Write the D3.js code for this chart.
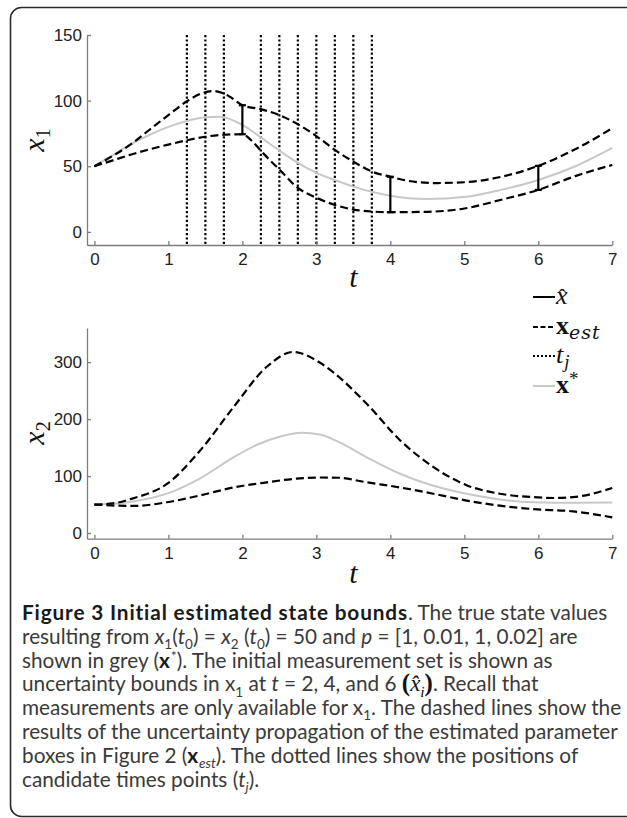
<!DOCTYPE html>
<html>
<head>
<meta charset="utf-8">
<script src="https://cdn.jsdelivr.net/npm/d3@7"></script>
<style>
body{margin:0;background:#fff;}
.axis .domain,.axis line{stroke:#7d7d7d;stroke-width:1.3;}
.axis text{font-family:"Liberation Sans",Arial,sans-serif;font-size:17px;fill:#222;}
</style>
</head>
<body>
<div id="chart"></div>
<script>
// x1 panel, [t, value]
var x1Upper = [[0,50],[0.25,58],[0.5,67],[0.75,78],[1,89],[1.25,99.5],[1.45,105.5],[1.62,107.3],[1.8,104],[2,96.5],[2.25,93.5],[2.5,89],[2.75,82],[3,73],[3.25,62.5],[3.5,53.5],[3.75,46],[4,42],[4.25,38.8],[4.6,37.2],[5,37.8],[5.5,42],[6,50.3],[6.5,63],[7,79]];
var x1Lower = [[0,50],[0.25,54.5],[0.5,59],[0.75,63],[1,66.5],[1.25,69.8],[1.5,72.5],[1.75,74],[2,74.4],[2.15,68],[2.28,60],[2.5,47.5],[2.75,33.5],[3,26],[3.25,20.5],[3.5,17],[3.75,15.5],[4,15],[4.5,15.3],[5,17.8],[5.5,24.5],[6,32],[6.5,42.5],[7,51]];
var x1True = [[0,50],[0.25,58.5],[0.5,67],[0.75,74],[1,80],[1.25,84.5],[1.5,87.3],[1.7,87.8],[2,81.5],[2.25,72],[2.5,62],[2.75,52.5],[3,45],[3.25,39.5],[3.5,34.5],[3.75,30.5],[4,27.5],[4.5,25],[5,26.5],[5.5,32],[6,39.5],[6.5,50],[7,64]];

// x2 panel
var x2Upper = [[0,50],[0.25,52],[0.5,60],[1,88],[1.43,145],[1.88,221],[2.33,292],[2.69,318],[2.78,316],[3.05,299],[3.23,282],[3.68,227],[4.13,163],[4.58,116],[5.03,84],[5.48,69],[5.93,63],[6.2,61.5],[6.47,63],[7,79]];
var x2True = [[0,50],[0.5,55],[1,70],[1.43,96],[1.88,133],[2.2,155],[2.5,169],[2.8,176],[3.05,173],[3.3,160],[3.68,133],[4.13,104],[4.58,83],[5.03,69],[5.48,59],[5.93,54],[6.47,53],[7,53.5]];
var x2Lower = [[0,50],[0.53,47.5],[0.98,54],[1.43,66],[1.88,80],[2.33,89],[2.69,95],[3.05,97.5],[3.3,97],[3.68,89],[4.13,80],[4.58,69],[5.03,57],[5.48,48],[5.93,42],[6.47,38],[7,27.5]];

// measurements of x1 and candidate times
var measTimes = [2, 4, 6];
var measLow = [74.4, 15, 32];
var measHigh = [96.5, 42, 50.3];
var candTimes = [1.25, 1.5, 1.75, 2.25, 2.5, 2.75, 3, 3.25, 3.5, 3.75];

var tTicks = [0,1,2,3,4,5,6,7];
var x1Ticks = [0,50,100,150];
var x2Ticks = [0,100,200,300];

var captionLines = [
  [["Figure 3 Initial estimated state bounds","b"],[". The true state values",""]],
  [["resulting from ",""],["x","i"],["1","sub"],["(",""],["t","i"],["0","sub"],[") = ",""],["x","i"],["2","sub"],[" (",""],["t","i"],["0","sub"],[") = 50 and ",""],["p","i"],[" = [1, 0.01, 1, 0.02] are",""]],
  [["shown in grey (",""],["x","b"],["*","sup"],["). The initial measurement set is shown as",""]],
  [["uncertainty bounds in x",""],["1","sub"],[" at ",""],["t","i"],[" = 2, 4, and 6 ",""],["(","mp"],["x\u0302","mi"],["i","msub"],[")","mp"],[". Recall that",""]],
  [["measurements are only available for x",""],["1","sub"],[". The dashed lines show the",""]],
  [["results of the uncertainty propagation of the estimated parameter",""]],
  [["boxes in Figure 2 (",""],["x","b"],["est","isub"],["). The dotted lines show the positions of",""]],
  [["candidate times points (",""],["t","i"],["j","isub"],[").",""]]
];

var width = 627, height = 818;
var serif = "'Liberation Serif','DejaVu Serif',serif";
var sans = "Lato,'Open Sans',sans-serif";

var svg = d3.select("#chart").append("svg")
    .attr("width", width)
    .attr("height", height);

// frame
svg.append("rect")
    .attr("x", 10.5).attr("y", 7.5)
    .attr("width", 640).attr("height", 809)
    .attr("rx", 11)
    .attr("fill", "none")
    .attr("stroke", "#2b2b2b")
    .attr("stroke-width", 1.6);

var x = d3.scaleLinear().domain([-0.1, 7]).range([87, 612.3]);
var y1 = d3.scaleLinear().domain([-10, 150]).range([245, 35]);
var y2 = d3.scaleLinear().domain([-10, 360]).range([538.7, 328]);

function drawAxes(y, ticks) {
  svg.append("g")
      .attr("class", "axis")
      .attr("transform", "translate(0," + y.range()[0] + ")")
      .call(d3.axisBottom(x).tickValues(tTicks).tickSizeInner(-4).tickSizeOuter(0).tickPadding(8));
  svg.append("g")
      .attr("class", "axis")
      .attr("transform", "translate(" + x.range()[0] + ",0)")
      .call(d3.axisLeft(y).tickValues(ticks).tickSizeInner(-4).tickSizeOuter(0).tickPadding(5));
}

function mathLabel(tx, ty, main, sub, rot) {
  var t = svg.append("text")
      .attr("transform", "translate(" + tx + "," + ty + ")" + (rot ? " rotate(-90)" : ""))
      .attr("text-anchor", "middle")
      .attr("font-family", serif)
      .attr("font-style", "italic")
      .attr("font-size", 30)
      .attr("fill", "#111");
  t.append("tspan").text(main);
  if (sub) t.append("tspan").attr("font-size", 20).attr("font-style", "normal").attr("dy", 6).text(sub);
}

function drawPanel(y, upper, lower, truth, withMarks) {
  var line = d3.line()
      .x(function(d) { return x(d[0]); })
      .y(function(d) { return y(d[1]); })
      .curve(d3.curveMonotoneX);

  if (withMarks) {
    svg.append("g").selectAll("line")
      .data(candTimes).enter().append("line")
        .attr("x1", function(d) { return x(d); })
        .attr("x2", function(d) { return x(d); })
        .attr("y1", y(150))
        .attr("y2", y(-10))
        .attr("stroke", "#000")
        .attr("stroke-width", 2.2)
        .attr("stroke-dasharray", "2.2,2.2");
  }

  svg.append("path").datum(truth)
      .attr("d", line)
      .attr("fill", "none")
      .attr("stroke", "#c8c8c8")
      .attr("stroke-width", 2);

  [upper, lower].forEach(function(s) {
    svg.append("path").datum(s)
        .attr("d", line)
        .attr("fill", "none")
        .attr("stroke", "#000")
        .attr("stroke-width", 2.2)
        .attr("stroke-dasharray", "8,4");
  });

  if (withMarks) {
    var bars = svg.append("g").selectAll("g")
      .data(measTimes).enter().append("g")
        .attr("stroke", "#000")
        .attr("stroke-width", 2.2);
    bars.append("line")
        .attr("x1", function(d) { return x(d); })
        .attr("x2", function(d) { return x(d); })
        .attr("y1", function(d, i) { return y(measLow[i]); })
        .attr("y2", function(d, i) { return y(measHigh[i]); });
    bars.append("line")
        .attr("x1", function(d) { return x(d) - 3.5; })
        .attr("x2", function(d) { return x(d) + 3.5; })
        .attr("y1", function(d, i) { return y(measLow[i]); })
        .attr("y2", function(d, i) { return y(measLow[i]); });
    bars.append("line")
        .attr("x1", function(d) { return x(d) - 3.5; })
        .attr("x2", function(d) { return x(d) + 3.5; })
        .attr("y1", function(d, i) { return y(measHigh[i]); })
        .attr("y2", function(d, i) { return y(measHigh[i]); });
  }
}

drawPanel(y1, x1Upper, x1Lower, x1True, true);
drawAxes(y1, x1Ticks);
drawPanel(y2, x2Upper, x2Lower, x2True, false);
drawAxes(y2, x2Ticks);

mathLabel(44, 140, "x", "1", true);
mathLabel(44, 433, "x", "2", true);
mathLabel(x(3.5), 287, "t", null, false);
mathLabel(x(3.5), 583, "t", null, false);

// legend
var legendRows = [
  {y: 297, stroke: "#000", dash: null},
  {y: 327, stroke: "#000", dash: "5,2.5"},
  {y: 356, stroke: "#000", dash: "2,2"},
  {y: 386, stroke: "#c8c8c8", dash: null}
];
var legend = svg.append("g")
    .attr("font-family", serif)
    .attr("fill", "#111");
legendRows.forEach(function(r, i) {
  legend.append("line")
      .attr("x1", 533).attr("x2", 555)
      .attr("y1", r.y).attr("y2", r.y)
      .attr("stroke", r.stroke)
      .attr("stroke-width", 2)
      .attr("stroke-dasharray", r.dash);
  var t = legend.append("text")
      .attr("x", 556).attr("y", r.y + 7)
      .attr("font-size", 26);
  if (i == 0) {
    t.append("tspan").attr("font-style", "italic").text("x");
    t.append("tspan").attr("font-size", 22).attr("dx", -9).text("\u02C6");
  } else if (i == 1) {
    t.append("tspan").attr("font-weight", "bold").text("x");
    t.append("tspan").attr("font-family", "'DejaVu Serif',serif").attr("font-style", "italic")
        .attr("font-size", 19).attr("letter-spacing", 1).attr("dy", 5).text("est");
  } else if (i == 2) {
    t.append("tspan").attr("font-style", "italic").text("t");
    t.append("tspan").attr("font-style", "italic").attr("font-size", 19).attr("dx", 1).attr("dy", 5).text("j");
  } else {
    t.append("tspan").attr("font-weight", "bold").text("x");
    t.append("tspan").attr("font-size", 19).attr("dy", -8).text("*");
  }
});

// caption, font size fitted to the width of the sixth line
var probe = svg.append("text").attr("font-family", sans).attr("font-size", 20)
    .text(captionLines[5][0][0]);
var fs = 20 * 596 / probe.node().getComputedTextLength();
probe.remove();

var caption = svg.append("g")
    .attr("font-family", sans)
    .attr("font-size", fs)
    .attr("fill", "#3a3a3a");

captionLines.forEach(function(segs, li) {
  var t = caption.append("text")
      .attr("x", 22)
      .attr("y", 620 + li * 23.8);
  var shift = 0;
  segs.forEach(function(s) {
    var k = s[1];
    var ts = t.append("tspan").text(s[0]);
    var target = 0;
    if (k == "b") ts.attr("font-weight", "bold").attr("fill", "#1a1a1a").attr("letter-spacing", 0.85);
    if (k == "i" || k == "isub") ts.attr("font-style", "italic");
    if (k == "sub" || k == "isub") { ts.attr("font-size", fs * 0.65); target = fs * 0.25; }
    if (k == "sup") { ts.attr("font-size", fs * 0.68); target = -fs * 0.33; }
    if (k == "mp") ts.attr("font-family", serif).attr("font-weight", "bold").attr("font-size", fs * 1.2).attr("fill", "#111");
    if (k == "mi") ts.attr("font-family", serif).attr("font-style", "italic").attr("font-size", fs * 1.1).attr("fill", "#111");
    if (k == "msub") { ts.attr("font-family", serif).attr("font-style", "italic").attr("font-size", fs * 0.75).attr("fill", "#111"); target = fs * 0.25; }
    ts.attr("dy", target - shift);
    shift = target;
  });
});
</script>
</body>
</html>
